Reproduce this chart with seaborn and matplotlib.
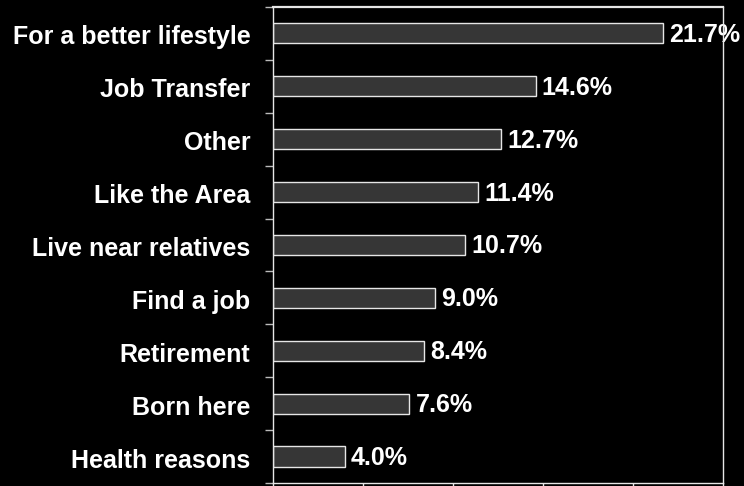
import pandas as pd
import matplotlib.pyplot as plt
import matplotlib.transforms as mtransforms
import seaborn as sns
from matplotlib.ticker import FixedLocator

reasons = ["For a better lifestyle", "Job Transfer", "Other", "Like the Area",
           "Live near relatives", "Find a job", "Retirement", "Born here",
           "Health reasons"]
shares = [21.7, 14.6, 12.7, 11.4, 10.7, 9.0, 8.4, 7.6, 4.0]

df = pd.DataFrame({"reason": reasons, "share": shares})

sns.set_style("dark")
plt.rcParams['font.family'] = ['Liberation Sans', 'DejaVu Sans']

fig = plt.figure(figsize=(7.44, 4.86), dpi=100, facecolor='black')
ax = fig.add_axes([0.3665, 0.0062, 0.6049, 0.9795])
ax.set_facecolor('black')

sns.barplot(data=df, x="share", y="reason", orient="h", ax=ax,
            color="#363636", edgecolor="#e6e6e6", linewidth=1.0,
            width=0.38, saturation=1)

# small downward nudge for all text, like the original
shift = mtransforms.ScaledTranslation(0, -1.5 / 100, fig.dpi_scale_trans)

for p, v in zip(ax.patches, shares):
    t = ax.text(p.get_x() + p.get_width() + 0.35, p.get_y() + p.get_height() / 2,
                f"{v:.1f}%", color='white', fontsize=18, fontweight='bold',
                va='center', ha='left')
    t.set_transform(t.get_transform() + shift)

ax.set_xlim(0, 25)
ax.set_ylim(len(reasons) - 0.5, -0.5)
ax.set_xticks([0, 5, 10, 15, 20, 25])
ax.set_xticklabels([])
ax.set_xlabel("")
ax.set_ylabel("")

# labels at the bar centres, ticks between the categories
ax.tick_params(axis='y', which='major', length=0, pad=16, labelsize=18,
               labelcolor='white')
for lbl in ax.get_yticklabels():
    lbl.set_fontweight('bold')
    lbl.set_transform(lbl.get_transform() + shift)
ax.yaxis.set_minor_locator(FixedLocator([i - 0.5 for i in range(len(reasons) + 1)]))
ax.tick_params(axis='y', which='minor', left=True, length=6, width=1.0,
               color='#bbbbbb', direction='out')
ax.tick_params(axis='x', which='major', bottom=True, length=6, width=1.0,
               color='#e6e6e6', direction='out')

for s in ax.spines.values():
    s.set_visible(True)
    s.set_color('#e6e6e6')
    s.set_linewidth(1.0)
    s.set_zorder(5)
ax.spines['top'].set_linewidth(1.6)
ax.grid(False)

plt.savefig("out.png", dpi=100, facecolor='black')
